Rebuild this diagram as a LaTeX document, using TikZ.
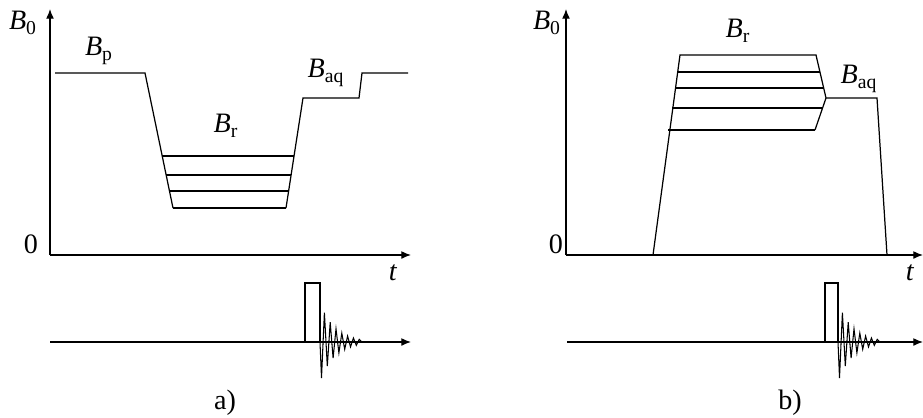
\documentclass[tikz,border=0pt]{standalone}
\usepackage{fontspec}
\setmainfont{Liberation Serif}
\usetikzlibrary{arrows.meta}

\newcommand{\fieldlbl}[2]{\textit{#1}\textsubscript{#2}}
\newcommand{\echotrain}[1]{%
  \draw[sig] (#1,283) -- (#1,342)
    \foreach \i in {0,...,13}{ -- ({#1+1.5+2.9*\i},{342+ifthenelse(mod(\i,2)==0,1,-1)*36*exp(-0.2*\i)}) }
    -- ({#1+42},342);}

\begin{document}
\begin{tikzpicture}[
x=0.02cm, y=-0.02cm,
lbl/.style={inner sep=0pt, font=\fontsize{16}{18}\selectfont},
axis/.style={-{Latex[length=5.5pt, width=4.5pt]}, line width=0.7pt},
curve/.style={line width=0.7pt, line join=miter},
level/.style={line width=0.7pt},
sig/.style={line width=0.6pt}
]
\useasboundingbox (0,0) rectangle (923,417);

% panel a
\draw[axis] (50,255) -- (50,9);
\draw[axis] (50,255) -- (411,255);
\node[lbl] (a-B0) at (23,23) {\fieldlbl{B}{0}};
\node[lbl] (a-zero) at (31,244) {0};
\node[lbl] (a-t) at (393,273) {\textit{t}};
\node[lbl] (a-Bp) at (99,51) {\fieldlbl{B}{p}};
\node[lbl] (a-Br) at (226,126) {\fieldlbl{B}{r}};
\node[lbl] (a-Baq) at (326,73) {\fieldlbl{B}{aq}};

\draw[curve] (55,73) -- (145,73) -- (173,208);
\draw[curve] (286,208) -- (303,98) -- (359,98) -- (362,73) -- (408,73);
\draw[level] (162,156) -- (294,156);
\draw[level] (166,175) -- (291,175);
\draw[level] (169,191) -- (289,191);
\draw[level, line width=1.1pt] (173,208) -- (286,208);

\draw[axis] (50,342) -- (411,342);
\draw[sig] (305,342) rectangle (320,283);
\echotrain{320}
\node[lbl] (a-cap) at (225,403) {a)};

% panel b
\draw[axis] (566,255) -- (566,9);
\draw[axis] (566,255) -- (923,255);
\node[lbl] (b-B0) at (547,23) {\fieldlbl{B}{0}};
\node[lbl] (b-zero) at (556,244) {0};
\node[lbl] (b-t) at (910,273) {\textit{t}};
\node[lbl] (b-Br) at (738,31) {\fieldlbl{B}{r}};
\node[lbl] (b-Baq) at (859,79) {\fieldlbl{B}{aq}};

\draw[curve] (653,255) -- (680,55) -- (816,55) -- (826,98) -- (877,98) -- (887,255);
\draw[curve] (815,130) -- (826,98);
\draw[level] (678,72) -- (820,72);
\draw[level, line width=1.1pt] (675,88) -- (823,88);
\draw[level] (672,108) -- (823,108);
\draw[level] (668,130) -- (815,130);

\draw[axis] (567,342) -- (923,342);
\draw[sig] (825,342) rectangle (838,283);
\echotrain{838}
\node[lbl] (b-cap) at (790,403) {b)};
\end{tikzpicture}
\end{document}
